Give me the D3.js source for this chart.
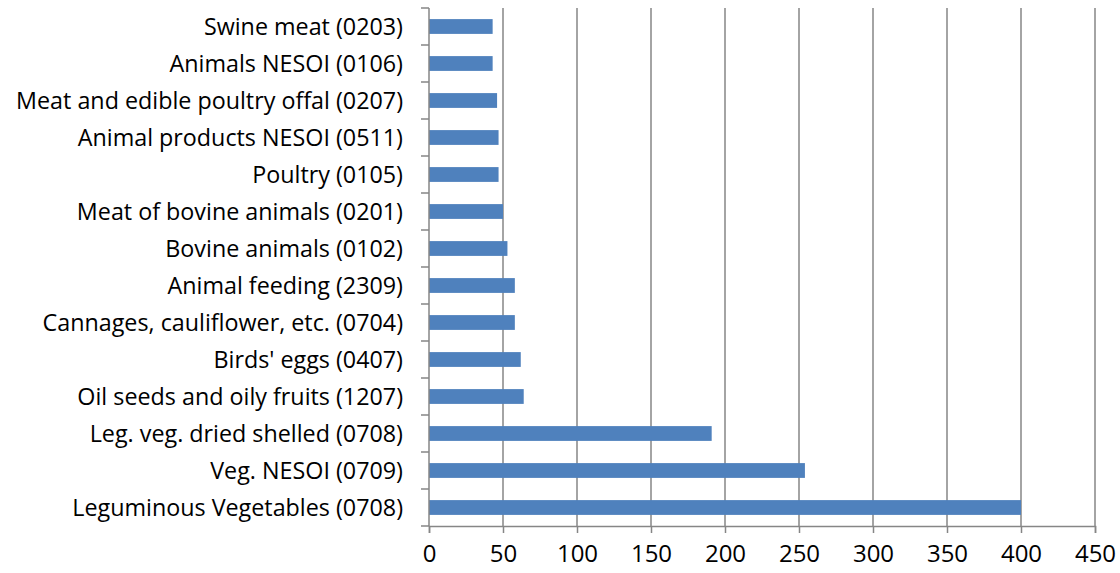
<!DOCTYPE html>
<html>
<head>
<meta charset="utf-8">
<script src="https://cdn.jsdelivr.net/npm/d3@7"></script>
<style>
  body { margin: 0; background: #fff; }
  text { font-family: "Open Sans", sans-serif; fill: #000; }
</style>
</head>
<body>
<div id="chart"></div>
<script>
// categories, top to bottom as drawn
const categories = [
  "Swine meat (0203)",
  "Animals NESOI (0106)",
  "Meat and edible poultry offal (0207)",
  "Animal products NESOI (0511)",
  "Poultry (0105)",
  "Meat of bovine animals (0201)",
  "Bovine animals (0102)",
  "Animal feeding (2309)",
  "Cannages, cauliflower, etc. (0704)",
  "Birds' eggs (0407)",
  "Oil seeds and oily fruits (1207)",
  "Leg. veg. dried shelled (0708)",
  "Veg. NESOI (0709)",
  "Leguminous Vegetables (0708)"
]
const values = [43, 43, 46, 47, 47, 50, 53, 58, 58, 62, 64, 191, 254, 400]
const xTicks = [0, 50, 100, 150, 200, 250, 300, 350, 400, 450]

const margin = { top: 8, right: 25, bottom: 47, left: 429 },
  width = 1120 - margin.left - margin.right,
  height = 573 - margin.top - margin.bottom;

const svg = d3.select("#chart")
  .append("svg")
  .attr("width", 1120)
  .attr("height", 573)
  .append("g")
  .attr("transform", `translate(${margin.left},${margin.top})`);

const x = d3.scaleLinear().domain([0, 450]).range([0, width]);
const y = d3.scaleBand().domain(categories).range([0, height]).paddingInner(0.6).paddingOuter(0.3);

// vertical gridlines
svg.selectAll(".grid")
  .data(xTicks.slice(1))
  .join("line")
  .attr("x1", d => x(d)).attr("x2", d => x(d))
  .attr("y1", 0).attr("y2", height)
  .attr("stroke", "#868686")
  .attr("stroke-width", 1.5);

// bars
svg.selectAll(".bar")
  .data(values)
  .join("rect")
  .attr("x", 0)
  .attr("y", (d, i) => y(categories[i]))
  .attr("width", d => x(d))
  .attr("height", y.bandwidth())
  .attr("fill", "#4f81bd");

// y axis: ticks between categories
const step = y.step();
svg.selectAll(".ytick")
  .data(d3.range(categories.length + 1))
  .join("line")
  .attr("x1", -8).attr("x2", 0)
  .attr("y1", i => i * step).attr("y2", i => i * step)
  .attr("stroke", "#868686").attr("stroke-width", 1.5);
svg.append("line")
  .attr("x1", 0).attr("x2", 0).attr("y1", 0).attr("y2", height)
  .attr("stroke", "#868686").attr("stroke-width", 1.5);

svg.selectAll(".ylabel")
  .data(categories)
  .join("text")
  .attr("x", -26)
  .attr("y", d => y(d) + y.bandwidth() / 2)
  .attr("dy", "0.35em")
  .attr("text-anchor", "end")
  .style("font-size", "23.3px")
  .text(d => d);

// x axis
const xAxis = svg.append("g")
  .attr("transform", `translate(0,${height})`)
  .call(d3.axisBottom(x).tickValues(xTicks).tickSize(7).tickPadding(12));
xAxis.select(".domain").attr("stroke", "#868686").attr("stroke-width", 1.5);
xAxis.selectAll(".tick line").attr("stroke", "#868686").attr("stroke-width", 1.5);
xAxis.selectAll(".tick text")
  .style("font-size", "24px")
  .style("font-family", "'Open Sans', sans-serif")
  .attr("fill", "#000");
</script>
</body>
</html>
